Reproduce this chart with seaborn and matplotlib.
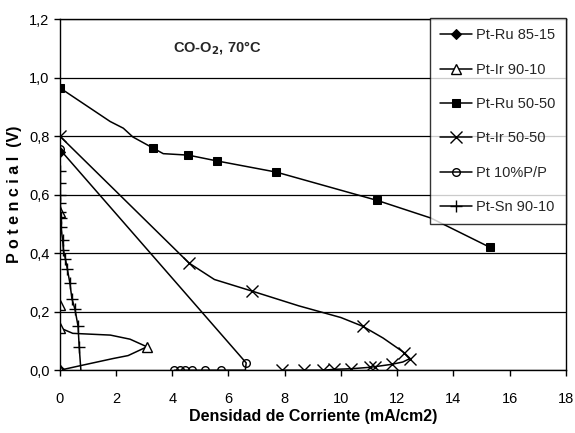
import matplotlib
matplotlib.use("Agg")
import matplotlib.pyplot as plt
import seaborn as sns
import pandas as pd

sns.set_theme(style="white")
plt.rcParams['font.family'] = ['Liberation Sans', 'DejaVu Sans']

# ---- data ----
ru8515_x = [0.0, 0.0, 0.0]
ru8515_y = [0.745, 0.37, 0.0]
ru8515_marks = [0, 2]

ir9010_x = [0.0, 0.0, 0.0, 0.46, 1.8, 2.5, 3.1, 2.43, 1.9, 0.8, 0.0]
ir9010_y = [0.54, 0.222, 0.145, 0.126, 0.12, 0.106, 0.08, 0.05, 0.04, 0.017, 0.0]
ir9010_marks = [0, 1, 2, 6, 10]

ru5050_x = [0.0, 1.79, 2.26, 2.6, 3.32, 3.68, 4.57, 5.6, 7.7, 11.3, 13.2, 15.3]
ru5050_y = [0.965, 0.85, 0.827, 0.797, 0.759, 0.74, 0.735, 0.715, 0.677, 0.58, 0.52, 0.42]
ru5050_marks = [0, 4, 6, 7, 8, 9, 11]

ir5050_x = [0.0, 4.6, 5.5, 6.85, 8.5, 10.0, 10.78, 11.5, 12.25, 12.46, 12.2, 11.8,
            11.2, 11.04, 10.36, 9.75, 9.36, 8.7, 7.9]
ir5050_y = [0.80, 0.366, 0.31, 0.27, 0.22, 0.18, 0.15, 0.11, 0.06, 0.04, 0.028, 0.02,
            0.012, 0.01, 0.005, 0.003, 0.0, 0.0, 0.0]
ir5050_marks = [0, 1, 3, 6, 8, 9, 11, 12, 13, 14, 15, 16, 17, 18]

pt10_x = [0.0, 6.63, 6.6, 5.75, 5.15, 4.7, 4.46, 4.28, 4.08]
pt10_y = [0.755, 0.025, 0.0, 0.0, 0.0, 0.0, 0.0, 0.0, 0.0]
pt10_marks = [0, 1, 3, 4, 5, 6, 7, 8]

sn9010_x = [0.0, 0.0, 0.0, 0.01, 0.02, 0.03, 0.04, 0.1, 0.13, 0.2, 0.27, 0.36, 0.43,
            0.54, 0.65, 0.69, 0.75]
sn9010_y = [0.68, 0.64, 0.60, 0.57, 0.54, 0.52, 0.49, 0.445, 0.41, 0.38, 0.345, 0.297,
            0.245, 0.208, 0.15, 0.08, 0.0]
sn9010_marks = list(range(16))

y_ticks = [0.0, 0.2, 0.4, 0.6, 0.8, 1.0, 1.2]
y_tick_labels = ["0,0", "0,2", "0,4", "0,6", "0,8", "1,0", "1,2"]
x_ticks = [0, 2, 4, 6, 8, 10, 12, 14, 16, 18]

fig = plt.figure(figsize=(5.75, 4.33), dpi=100)
ax = fig.add_axes([0.104, 0.145, 0.880, 0.811])

for y in y_ticks:
    ax.axhline(y, color="black", lw=0.9, zorder=0)

series = [
    ("Pt-Ru 85-15", ru8515_x, ru8515_y, ru8515_marks, dict(marker="D", ms=5.5, mfc="black", mec="black")),
    ("Pt-Ir 90-10", ir9010_x, ir9010_y, ir9010_marks, dict(marker="^", ms=6.5, mfc="white", mec="black", mew=1)),
    ("Pt-Ru 50-50", ru5050_x, ru5050_y, ru5050_marks, dict(marker="s", ms=6, mfc="black", mec="black")),
    ("Pt-Ir 50-50", ir5050_x, ir5050_y, ir5050_marks, dict(marker="x", ms=8, mfc="black", mec="black", mew=1)),
    ("Pt 10%P/P", pt10_x, pt10_y, pt10_marks, dict(marker="o", ms=5.5, mfc="none", mec="black", mew=1)),
    ("Pt-Sn 90-10", sn9010_x, sn9010_y, sn9010_marks, dict(marker="+", ms=9, mfc="black", mec="black", mew=1)),
]

for name, xs, ys, marks, style in series:
    df = pd.DataFrame({"x": xs, "y": ys})
    sns.lineplot(data=df, x="x", y="y", ax=ax, sort=False, estimator=None,
                 color="black", lw=1.1, label=name, markevery=marks, **style)

ax.set_xlim(0, 18)
ax.set_ylim(0, 1.2)
ax.set_xticks(x_ticks)
ax.set_xticklabels([str(v) for v in x_ticks])
ax.set_yticks(y_ticks)
ax.set_yticklabels(y_tick_labels)
ax.tick_params(axis="both", labelsize=10.5, length=4, width=1, color="black",
               labelcolor="black", direction="out", bottom=True, left=True)
ax.tick_params(axis="x", pad=12)
for s in ax.spines.values():
    s.set_color("black")
    s.set_linewidth(1)

ax.set_xlabel("Densidad de Corriente (mA/cm2)", fontsize=11.5, fontweight="bold", color="black", labelpad=2)
ax.set_ylabel("P o t e n c i a l  (V)", fontsize=11.5, fontweight="bold", color="black", labelpad=5)

ax.text(5.6, 1.10, "CO-O$_\\mathbf{2}$, 70°C", fontsize=10.5, fontweight="bold", ha="center", va="center")

leg = ax.legend(loc="upper right", bbox_to_anchor=(1.0, 1.003), borderaxespad=0, frameon=True,
                fancybox=False, shadow=False, fontsize=10.5, labelspacing=1.4,
                handlelength=2.2, borderpad=0.7, handletextpad=0.3)
leg.get_frame().set_edgecolor("black")
leg.get_frame().set_linewidth(1)
leg.set_zorder(5)

fig.savefig("out.png", dpi=100)
